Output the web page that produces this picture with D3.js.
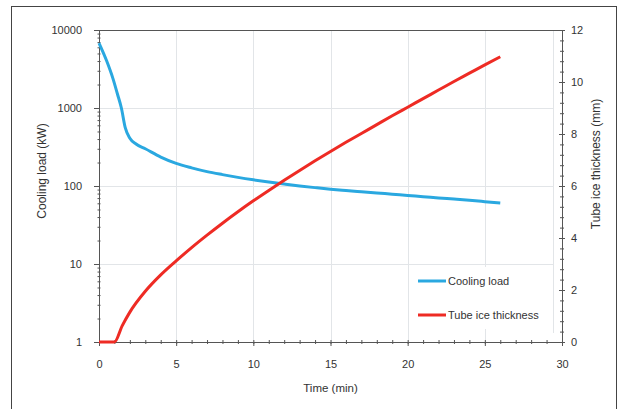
<!DOCTYPE html>
<html>
<head>
<meta charset="utf-8">
<script src="https://cdn.jsdelivr.net/npm/d3@7"></script>
<style>
  body { margin: 0; background: #fff; }
  text { font-family: "Liberation Sans", Arial, sans-serif; fill: #333; }
</style>
</head>
<body>
<svg id="chart" width="621" height="409"></svg>
<script>
// cooling load (kW) vs time (min)
var loadTime = [0, 0.5, 0.9, 1.2, 1.45, 1.7, 2.0, 2.4, 3, 4, 5, 6, 7, 8, 9, 10, 11, 12, 13, 14, 15, 16, 17, 18, 19, 20, 21, 22, 23, 24, 25, 26];
var loadValues = [6800, 4000, 2400, 1500, 1000, 560, 410, 345, 300, 235, 195, 171, 153, 140, 129, 120, 112.5, 106, 100.2, 95.3, 91, 87.6, 84.4, 81.4, 78.5, 75.7, 73, 70.4, 67.9, 65.5, 63, 60.5];
// tube ice thickness (mm) vs time (min)
var iceTime = [0, 1, 1.5, 2, 3, 4, 5, 6, 7, 8, 9, 10, 11, 12, 13, 14, 15, 16, 17, 18, 19, 20, 21, 22, 23, 24, 25, 26];
var iceValues = [0, 0, 0.62, 1.15, 1.95, 2.58, 3.12, 3.63, 4.11, 4.57, 5.01, 5.43, 5.83, 6.22, 6.6, 6.97, 7.33, 7.68, 8.02, 8.36, 8.7, 9.03, 9.36, 9.69, 10.02, 10.34, 10.66, 10.97];
var xTicks = [0, 5, 10, 15, 20, 25, 30];
var leftTicks = [1, 10, 100, 1000, 10000];
var rightTicks = [0, 2, 4, 6, 8, 10, 12];
var seriesNames = ["Cooling load", "Tube ice thickness"];
var seriesColors = ["#2aa8e0", "#ee2b24"];

var svg = d3.select("#chart");
var plotLeft = 99, plotRight = 562, plotTop = 30, plotBottom = 342;

var x = d3.scaleLinear().domain([0, 30]).range([plotLeft, plotRight]);
var yL = d3.scaleLog().domain([1, 10000]).range([plotBottom, plotTop]);
var yR = d3.scaleLinear().domain([0, 12]).range([plotBottom, plotTop]);

// outer frame
svg.append("rect").attr("x", 11.5).attr("y", 6.5).attr("width", 605).attr("height", 420)
  .attr("fill", "none").attr("stroke", "#444").attr("stroke-width", 1);

// grid
var grid = svg.append("g").attr("stroke", "#e2e5e8").attr("stroke-width", 1);
[10, 100, 1000].forEach(function(v){
  grid.append("line").attr("x1", plotLeft).attr("x2", 553)
    .attr("y1", Math.round(yL(v)) + 0.5).attr("y2", Math.round(yL(v)) + 0.5);
});
[5, 10, 15, 20, 25].forEach(function(v){
  grid.append("line").attr("y1", plotTop).attr("y2", plotBottom)
    .attr("x1", Math.round(x(v)) + 0.5).attr("x2", Math.round(x(v)) + 0.5);
});
grid.append("line").attr("x1", 553.5).attr("x2", 553.5).attr("y1", plotTop).attr("y2", 333);

// legend box covers grid
svg.append("rect").attr("x", 409).attr("y", 267).attr("width", 144).attr("height", 62).attr("fill", "#fff");

// axes
var axisColor = "#555";
svg.append("g").attr("transform", "translate(0," + plotBottom + ")")
  .call(d3.axisBottom(x).tickValues(xTicks).tickSize(4).tickPadding(14).tickFormat(d3.format("d")));
var xMinor = svg.append("g").attr("transform", "translate(0," + (plotBottom - 2) + ")")
  .call(d3.axisBottom(x).tickValues(d3.range(0, 31, 1)).tickSize(4).tickFormat(""));
xMinor.select(".domain").remove();

svg.append("g").attr("transform", "translate(" + plotLeft + ",0)")
  .call(d3.axisLeft(yL).tickValues(leftTicks).tickSize(5).tickPadding(12).tickFormat(d3.format("d")));
var minorLog = [];
[1, 10, 100, 1000].forEach(function(d){ for (var k = 2; k <= 9; k++) minorLog.push(d * k); });
var yMinorL = svg.append("g").attr("transform", "translate(" + (plotLeft + 1.5) + ",0)")
  .call(d3.axisLeft(yL).tickValues(minorLog).tickSize(3).tickFormat(""));
yMinorL.select(".domain").remove();

svg.append("g").attr("transform", "translate(" + plotRight + ",0)")
  .call(d3.axisRight(yR).tickValues(rightTicks).tickSize(3).tickPadding(6).tickFormat(d3.format("d")));
var yMinorR = svg.append("g").attr("transform", "translate(" + (plotRight - 2) + ",0)")
  .call(d3.axisRight(yR).tickValues(d3.range(0, 12.01, 0.4)).tickSize(4).tickFormat(""));
yMinorR.select(".domain").remove();
var yMajorR = svg.append("g").attr("transform", "translate(" + (plotRight - 3) + ",0)")
  .call(d3.axisRight(yR).tickValues(rightTicks).tickSize(3).tickFormat(""));
yMajorR.select(".domain").remove();

svg.selectAll(".domain, .tick line").attr("stroke", axisColor);
svg.selectAll(".tick text").style("font-size", "11px").attr("fill", "#333");

// top frame line
svg.append("line").attr("x1", plotLeft).attr("x2", plotRight).attr("y1", plotTop + 0.5).attr("y2", plotTop + 0.5)
  .attr("stroke", axisColor);

// series
var lineLoad = d3.line().x(function(d, i){ return x(loadTime[i]); })
  .y(function(d){ return yL(d); }).curve(d3.curveMonotoneX);
var lineIce = d3.line().x(function(d, i){ return x(iceTime[i]); })
  .y(function(d){ return yR(d); }).curve(d3.curveMonotoneX);

svg.append("path").datum(loadValues).attr("d", lineLoad)
  .attr("fill", "none").attr("stroke", seriesColors[0]).attr("stroke-width", 3).attr("stroke-linejoin", "round");
svg.append("path").datum(iceValues).attr("d", lineIce)
  .attr("fill", "none").attr("stroke", seriesColors[1]).attr("stroke-width", 3).attr("stroke-linejoin", "round");

// axis titles
svg.append("text").attr("x", x(15)).attr("y", 392).attr("text-anchor", "middle")
  .style("font-size", "11.5px").text("Time (min)");
svg.append("text").attr("transform", "translate(46,171) rotate(-90)").attr("text-anchor", "middle")
  .style("font-size", "12px").text("Cooling load (kW)");
svg.append("text").attr("transform", "translate(600,164) rotate(-90)").attr("text-anchor", "middle")
  .style("font-size", "12px").text("Tube ice thickness (mm)");

// legend
var legend = svg.append("g");
seriesNames.forEach(function(name, i){
  var ly = 281 + i * 34;
  legend.append("line").attr("x1", 418).attr("x2", 446).attr("y1", ly).attr("y2", ly)
    .attr("stroke", seriesColors[i]).attr("stroke-width", 3);
  legend.append("text").attr("x", 448).attr("y", ly + 4).style("font-size", "11px").text(name);
});
</script>
</body>
</html>
